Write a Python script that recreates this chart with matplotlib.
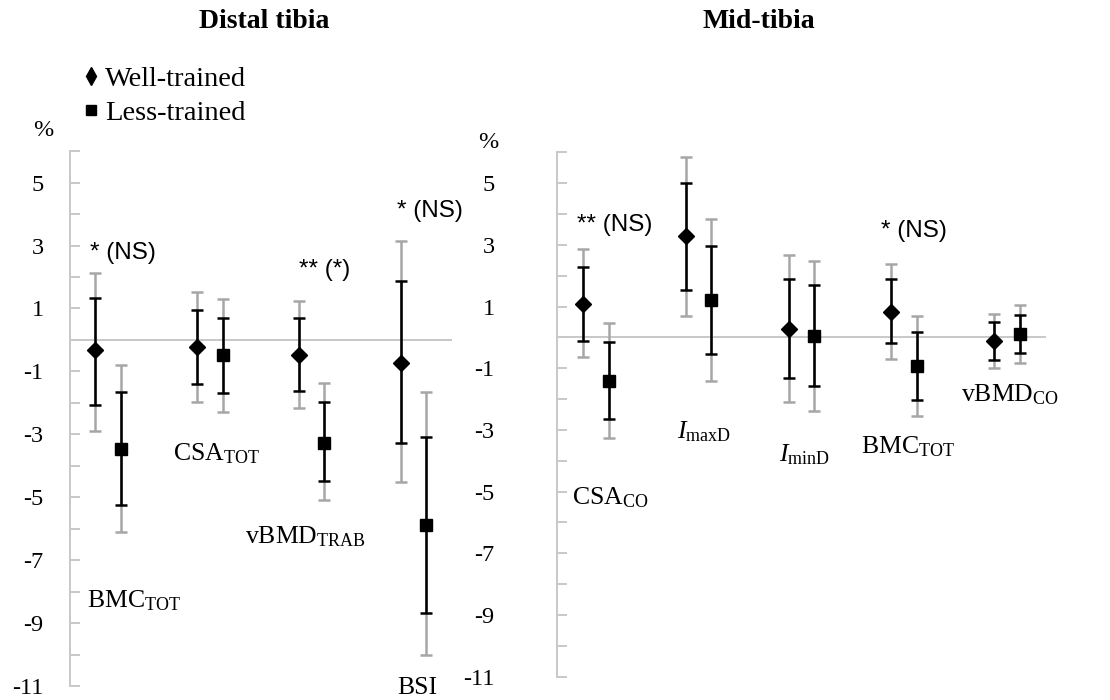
import matplotlib
matplotlib.use('Agg')
import matplotlib.pyplot as plt
import numpy as np
from matplotlib.lines import Line2D

plt.rcParams['font.family'] = 'Liberation Serif'
plt.rcParams['mathtext.fontset'] = 'custom'
plt.rcParams['mathtext.rm'] = 'Liberation Serif'
plt.rcParams['mathtext.it'] = 'Liberation Serif:italic'
plt.rcParams['mathtext.bf'] = 'Liberation Serif:bold'
plt.rcParams['axes.unicode_minus'] = False

# --- Distal tibia (% change) ---
dist_cats = [r'BMC$_{\mathrm{TOT}}$', r'CSA$_{\mathrm{TOT}}$',
             r'vBMD$_{\mathrm{TRAB}}$', 'BSI']
dist_well = [-0.32, -0.21, -0.48, -0.72]
dist_well_in_lo = [-2.06, -1.39, -1.61, -3.28]
dist_well_in_hi = [1.33, 0.95, 0.69, 1.87]
dist_well_out_lo = [-2.89, -1.98, -2.17, -4.53]
dist_well_out_hi = [2.13, 1.51, 1.24, 3.14]
dist_less = [-3.47, -0.48, -3.26, -5.87]
dist_less_in_lo = [-5.25, -1.70, -4.47, -8.68]
dist_less_in_hi = [-1.67, 0.69, -1.98, -3.07]
dist_less_out_lo = [-6.12, -2.30, -5.08, -10.02]
dist_less_out_hi = [-0.79, 1.29, -1.37, -1.67]
dist_sig = ['* (NS)', '', '** (*)', '* (NS)']

# --- Mid-tibia (% change) ---
mid_cats = [r'CSA$_{\mathrm{CO}}$', r'$I_{\mathrm{maxD}}$', r'$I_{\mathrm{minD}}$',
            r'BMC$_{\mathrm{TOT}}$', r'vBMD$_{\mathrm{CO}}$']
mid_well = [1.09, 3.28, 0.28, 0.84, -0.13]
mid_well_in_lo = [-0.10, 1.55, -1.32, -0.18, -0.72]
mid_well_in_hi = [2.29, 5.01, 1.90, 1.90, 0.49]
mid_well_out_lo = [-0.64, 0.71, -2.10, -0.70, -0.99]
mid_well_out_hi = [2.87, 5.84, 2.68, 2.39, 0.77]
mid_less = [-1.41, 1.22, 0.06, -0.94, 0.11]
mid_less_in_lo = [-2.65, -0.53, -1.56, -2.02, -0.51]
mid_less_in_hi = [-0.15, 2.98, 1.69, 0.18, 0.74]
mid_less_out_lo = [-3.25, -1.41, -2.37, -2.56, -0.83]
mid_less_out_hi = [0.47, 3.84, 2.49, 0.70, 1.06]
mid_sig = ['** (NS)', '', '', '* (NS)', '']

grey = '#a6a6a6'
axis_grey = '#c8c8c8'

fig = plt.figure(figsize=(11.1, 7), dpi=100)
ax1 = fig.add_axes([0.063, 0.02, 0.344, 0.764])
ax2 = fig.add_axes([0.502, 0.0333, 0.44, 0.749])


def draw_panel(ax, well, w_in, w_out, less, l_in, l_out, pad):
    x = np.arange(len(well))
    off = 0.125
    groups = [(x - off, np.array(well), w_in, w_out, 'D', 8),
              (x + off, np.array(less), l_in, l_out, 's', 8.5)]
    for xs, m, inner, outer, mk, ms in groups:
        lo, hi = np.array(outer[0]), np.array(outer[1])
        ax.errorbar(xs, m, yerr=[m - lo, hi - m], fmt='none', ecolor=grey,
                    elinewidth=1.8, capsize=4.5, capthick=1.8, zorder=2)
        lo, hi = np.array(inner[0]), np.array(inner[1])
        ax.errorbar(xs, m, yerr=[m - lo, hi - m], fmt=mk, color='black',
                    ms=ms, elinewidth=1.8, capsize=4.5, capthick=1.8, zorder=3)
    ax.axhline(0, color=axis_grey, lw=1.4, zorder=1)
    ax.set_xlim(-0.375, len(well) - 1 + 0.375)
    ax.set_ylim(-11, 6)
    ax.set_yticks(range(-11, 6, 2))
    ax.set_yticks(range(-10, 7, 2), minor=True)
    ax.set_xticks([])
    for s in ['top', 'right', 'bottom']:
        ax.spines[s].set_visible(False)
    ax.spines['left'].set_color(axis_grey)
    ax.spines['left'].set_linewidth(1.4)
    ax.tick_params(which='both', axis='y', direction='in', length=7,
                   color=axis_grey, width=1.4, labelsize=17.5, pad=pad)


draw_panel(ax1, dist_well, (dist_well_in_lo, dist_well_in_hi),
           (dist_well_out_lo, dist_well_out_hi), dist_less,
           (dist_less_in_lo, dist_less_in_hi), (dist_less_out_lo, dist_less_out_hi), 19)
draw_panel(ax2, mid_well, (mid_well_in_lo, mid_well_in_hi),
           (mid_well_out_lo, mid_well_out_hi), mid_less,
           (mid_less_in_lo, mid_less_in_hi), (mid_less_out_lo, mid_less_out_hi), 45)

# category labels (x, y placement in data units)
dist_lab_pos = [(-0.21, -8.3), (0.64, -3.6), (1.34, -6.24), (2.84, -11.05)]
mid_lab_pos = [(-0.23, -5.21), (0.79, -3.05), (1.78, -3.81), (2.58, -3.54), (3.55, -1.86)]
dist_sig_pos = [(-0.18, 2.76), None, (1.87, 2.22), (2.84, 4.1)]
mid_sig_pos = [(-0.18, 3.64), None, None, (2.77, 3.44), None]

for ax, cats, lpos, sig, spos in [(ax1, dist_cats, dist_lab_pos, dist_sig, dist_sig_pos),
                                  (ax2, mid_cats, mid_lab_pos, mid_sig, mid_sig_pos)]:
    for c, p in zip(cats, lpos):
        ax.text(p[0], p[1], c, fontsize=18.5, ha='left', va='center', clip_on=False)
    for s, p in zip(sig, spos):
        if s:
            ax.text(p[0], p[1], s, fontsize=17.5, family='Liberation Sans',
                    ha='left', va='center')

fig.text(264 / 1110, 1 - 22 / 700, 'Distal tibia', fontsize=20, fontweight='bold',
         ha='center', va='center')
fig.text(759 / 1110, 1 - 22 / 700, 'Mid-tibia', fontsize=20, fontweight='bold',
         ha='center', va='center')
fig.text(43 / 1110, 1 - 130 / 700, '%', fontsize=17.5, ha='center', va='center')
fig.text(488 / 1110, 1 - 142 / 700, '%', fontsize=17.5, ha='center', va='center')

handles = [Line2D([], [], marker='d', ls='none', color='black', ms=9),
           Line2D([], [], marker='s', ls='none', color='black', ms=7)]
fig.legend(handles, ['Well-trained', 'Less-trained'], loc='upper left',
           bbox_to_anchor=(84 / 1110, 1 - 66 / 700), frameon=False, fontsize=20.5,
           handlelength=0.5, handletextpad=0.25, labelspacing=0.28,
           borderaxespad=0, borderpad=0)

fig.savefig('out.png', dpi=100)
